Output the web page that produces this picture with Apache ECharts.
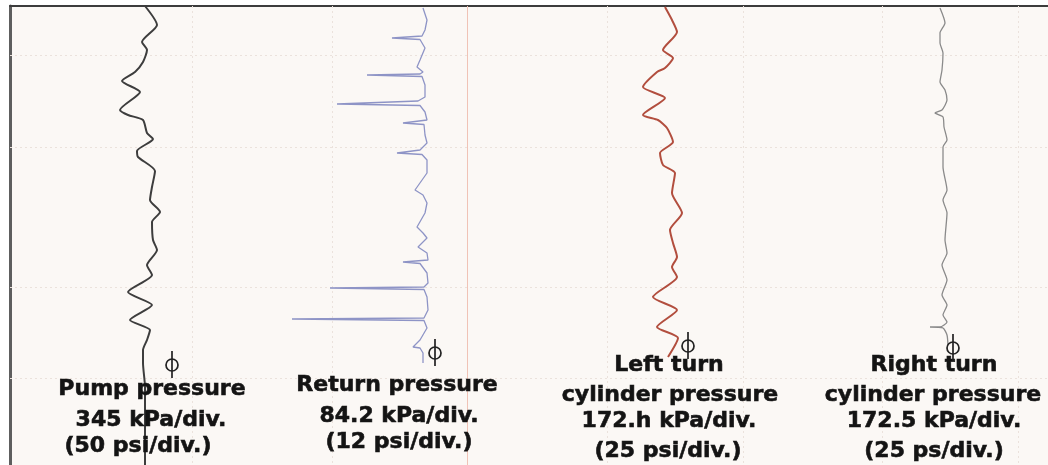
<!DOCTYPE html>
<html>
<head>
<meta charset="utf-8">
<style>html,body{margin:0;padding:0;background:#fff;}#c{width:1048px;height:465px;}</style>
<script src="https://cdn.jsdelivr.net/npm/echarts@6/dist/echarts.min.js"></script>
</head>
<body>
<div id="c"></div>
<script>
// Chart units: horizontal = pen deflection, vertical = time (recording runs downward)
var pumpPressure = [[145,6],[157,25],[142,42],[147,50],[143,62],[135,72],[122,81],[140,92],[120,110],[128,115],[143,120],[147,133],[153,139],[137,151],[138,157],[155,171],[152,187],[150,200],[160,212],[152,222],[153,240],[157,250],[147,265],[152,275],[128,292],[152,305],[130,320],[150,330],[147,340],[143,350],[143,363],[145,387],[145,465]];
var returnPressure = [[423,8],[427,20],[425,30],[422,36],[392,38],[420,39.5],[425,48],[420,60],[417,67],[423,72],[420,74],[367,75],[422,76.5],[425,85],[425,97],[418,101],[337,104],[420,105.5],[425,112],[427,120],[403,123],[424,124.5],[425,135],[427,143],[420,150],[397,153],[422,154.5],[427,160],[427,173],[415,190],[423,195],[427,203],[425,213],[417,227],[423,233],[427,238],[418,247],[427,253],[428,260],[403,262],[420,263.5],[427,273],[428,283],[424,287],[330,288],[424,289.5],[427,297],[428,310],[424,318],[292,319],[424,320.5],[427,328],[420,340],[413,347],[420,348],[423,353],[423,363]];
var leftTurnPressure = [[665,7],[672,20],[677,32],[663,50],[673,58],[665,68],[657,72],[643,87],[665,98],[643,115],[658,120],[667,128],[673,142],[660,153],[663,165],[675,173],[672,193],[682,213],[670,230],[673,243],[677,257],[672,267],[677,277],[653,297],[677,310],[657,327],[678,338],[668,357]];
var rightTurnPressure = [[940,8],[945,23],[940,33],[940,43],[943,53],[942,70],[940,82],[945,90],[947,100],[942,110],[935,113],[943,117],[944,127],[947,140],[943,147],[943,167],[947,190],[943,200],[947,213],[945,240],[947,253],[942,265],[947,280],[942,295],[947,305],[943,315],[947,322],[940,327],[930,327],[943,328],[947,335],[948,345]];
var gridX = [192,332,607,743,882,1018];
var zeroLineX = [467];
var gridY = [55,147,287,378];
var labels = [
  {lines:['Pump pressure','345 kPa/div.','(50 psi/div.)'], xs:[152,151,138], ys:[389,420,446]},
  {lines:['Return pressure','84.2 kPa/div.','(12 psi/div.)'], xs:[397,399,399], ys:[385,416,442]},
  {lines:['Left turn','cylinder pressure','172.h kPa/div.','(25 psi/div.)'], xs:[669,670,669,668], ys:[365,395,421,451]},
  {lines:['Right turn','cylinder pressure','172.5 kPa/div.','(25 ps/div.)'], xs:[934,933,934,934], ys:[365,395,421,451]}
];
var phiMarks = [[172,365],[435,353],[688,346],[953,348]];

var chart = echarts.init(document.getElementById('c'), null, {renderer:'canvas'});
var graphics = [];
labels.forEach(function(l){
  l.lines.forEach(function(t,i){
    graphics.push({type:'text', x:l.xs[i], y:l.ys[i], z:100, style:{text:t, fill:'#141414', stroke:'#141414', lineWidth:0.6, font:'bold 22px "DejaVu Sans"', textAlign:'center', textVerticalAlign:'middle'}});
  });
});
phiMarks.forEach(function(p){
  graphics.push({type:'circle', shape:{cx:p[0], cy:p[1], r:6}, z:100, style:{fill:'none', stroke:'#222', lineWidth:1.7}});
  graphics.push({type:'line', shape:{x1:p[0], y1:p[1]-14, x2:p[0], y2:p[1]+13}, z:100, style:{stroke:'#222', lineWidth:1.7}});
});

var gridLines = gridX.map(function(v){return {xAxis:v, lineStyle:{color:'#ebe2dc', type:[2,3], width:1}};})
  .concat(zeroLineX.map(function(v){return {xAxis:v, lineStyle:{color:'#f0c3b6', type:'solid', width:1}};}))
  .concat(gridY.map(function(v){return {yAxis:v, lineStyle:{color:'#ebe2dc', type:[2,3], width:1}};}));

chart.setOption({
  animation:false,
  backgroundColor:'#ffffff',
  grid:{left:10, top:6, right:0, bottom:0, show:true, backgroundColor:'#fbf8f5', borderWidth:0},
  xAxis:{type:'value', min:10, max:1048, position:'top', axisLine:{show:true, onZero:false, lineStyle:{color:'#3c3c3c', width:2}}, axisTick:{show:false}, axisLabel:{show:false}, splitLine:{show:false}},
  yAxis:{type:'value', min:6, max:465, inverse:true, axisLine:{show:true, onZero:false, lineStyle:{color:'#5e5e5e', width:3}}, axisTick:{show:false}, axisLabel:{show:false}, splitLine:{show:false}},
  series:[
    {type:'line', name:'Pump pressure', data:pumpPressure, showSymbol:false, smooth:0.22, lineStyle:{color:'#3d3d3d', width:2}, z:3,
     markLine:{silent:true, symbol:['none','none'], label:{show:false}, data:gridLines, z:1}},
    {type:'line', name:'Return pressure', data:returnPressure, showSymbol:false, smooth:false, lineStyle:{color:'#8e94c6', width:1.3}, z:3},
    {type:'line', name:'Left turn cylinder pressure', data:leftTurnPressure, showSymbol:false, smooth:0.22, lineStyle:{color:'#b24e3e', width:2}, z:3},
    {type:'line', name:'Right turn cylinder pressure', data:rightTurnPressure, showSymbol:false, smooth:0.2, lineStyle:{color:'#8a8a8a', width:1.3}, z:3}
  ],
  graphic:graphics
});
</script>
</body>
</html>
